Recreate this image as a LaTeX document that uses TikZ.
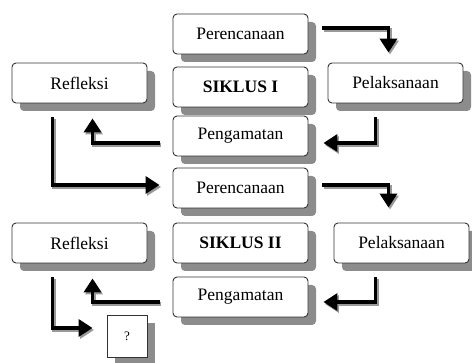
\documentclass[tikz,border=0pt]{standalone}
\usepackage{fontspec}
\setmainfont{Liberation Serif}
\usetikzlibrary{arrows.meta,shadows}

\tikzset{
  box/.style={draw=black!80, line width=0.9pt, rounded corners=4pt, fill=white,
              minimum width=135pt, minimum height=40pt, inner sep=0pt,
              font=\fontsize{17.5}{20}\selectfont,
              drop shadow={shadow xshift=8pt, shadow yshift=-8pt, fill=black!45, opacity=1}},
  tanyabox/.style={box, rounded corners=0pt, minimum width=40pt, minimum height=42pt,
              font=\fontsize{13}{15}\selectfont},
  flow/.style={line width=3.5pt, black, -{Triangle[width=17pt,length=14pt]},
               preaction={draw=black!40, line width=3.5pt,
                          transform canvas={shift={(1.5pt,-2pt)}}}}
}

\begin{document}
\begin{tikzpicture}[x=1pt, y=-1pt]
  \useasboundingbox (0,0) rectangle (472,363);

  % siklus I
  \node[box] (per1)  at (240.5,34)  {Perencanaan};
  \node[box] (sik1)  at (240.5,87)  {\textbf{SIKLUS I}};
  \node[box] (pen1)  at (240.5,136) {Pengamatan};
  \node[box] (ref1)  at (79.5,83)   {Refleksi};
  \node[box] (pel1)  at (395.5,83)  {Pelaksanaan};

  % siklus II
  \node[box] (per2)  at (240.5,188) {Perencanaan};
  \node[box] (sik2)  at (240.5,243) {\textbf{SIKLUS II}};
  \node[box] (pen2)  at (240.5,297) {Pengamatan};
  \node[box] (ref2)  at (79.5,243)  {Refleksi};
  \node[box] (pel2)  at (401.5,243) {Pelaksanaan};
  \node[tanyabox] (tanya) at (127,336) {?};

  \draw[flow] ([xshift=14pt,yshift=6pt]per1.east) -| ([xshift=-7pt,yshift=10pt]pel1.north);
  \draw[flow] ([xshift=-20pt,yshift=-14pt]pel1.south) |- ([xshift=15pt,yshift=-7pt]pen1.east);
  \draw[flow] ([xshift=-13pt,yshift=-7pt]pen1.west) -| ([xshift=13pt,yshift=-15pt]ref1.south);
  \draw[flow] ([xshift=-27pt,yshift=-14pt]ref1.south) |- ([xshift=-13pt,yshift=3pt]per2.west);

  \draw[flow] ([xshift=14pt,yshift=3pt]per2.east) -| ([xshift=-13pt,yshift=15pt]pel2.north);
  \draw[flow] ([xshift=-26pt,yshift=-14pt]pel2.south) |- ([xshift=15pt,yshift=-5pt]pen2.east);
  \draw[flow] ([xshift=-13pt,yshift=-5pt]pen2.west) -| ([xshift=13pt,yshift=-15pt]ref2.south);
  \draw[flow] ([xshift=-27pt,yshift=-14pt]ref2.south) |- ([xshift=-14pt,yshift=8pt]tanya.west);
\end{tikzpicture}
\end{document}
